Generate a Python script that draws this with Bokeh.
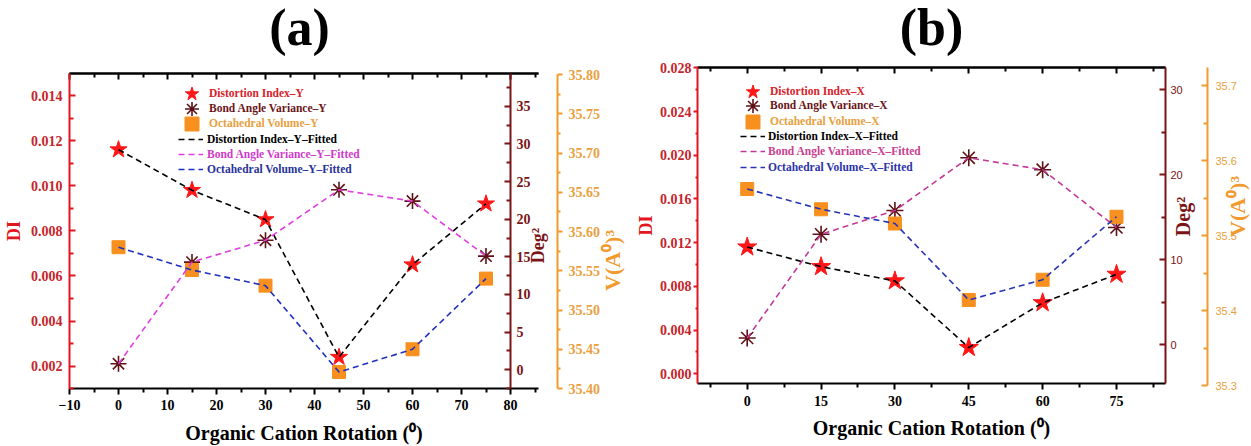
import math
from bokeh.plotting import figure
from bokeh.models import (Range1d, LinearAxis, FixedTicker, PrintfTickFormatter,
                          Legend, LegendItem, Label)
from bokeh.layouts import row
from bokeh.embed import file_html
from bokeh.resources import INLINE

# ---------------- data ----------------
angles = [0, 15, 30, 45, 60, 75]

di_y = [0.0116, 0.0098, 0.0085, 0.0024, 0.0065, 0.0092]
bav_y = [0.8, 14.3, 17.2, 23.9, 22.4, 15.1]
vol_y = [35.580, 35.551, 35.531, 35.421, 35.450, 35.540]

di_x = [0.0116, 0.0098, 0.0085, 0.0024, 0.0065, 0.0091]
bav_x = [0.8, 13.0, 15.8, 22.0, 20.6, 13.8]
vol_x = [35.562, 35.535, 35.516, 35.414, 35.441, 35.525]

# ticks
xa_major = [-10, 0, 10, 20, 30, 40, 50, 60, 70, 80]
xa_minor = [-5, 5, 15, 25, 35, 45, 55, 65, 75, 85]
dia_major = [0.002, 0.004, 0.006, 0.008, 0.010, 0.012, 0.014]
dia_minor = [0.001, 0.003, 0.005, 0.007, 0.009, 0.011, 0.013]
dega_major = [0, 5, 10, 15, 20, 25, 30, 35]
dega_minor = [-2.5, 2.5, 7.5, 12.5, 17.5, 22.5, 27.5, 32.5, 37.5]
vola_major = [35.40, 35.45, 35.50, 35.55, 35.60, 35.65, 35.70, 35.75, 35.80]
vola_minor = [35.425, 35.475, 35.525, 35.575, 35.625, 35.675, 35.725, 35.775]

xb_major = [0, 15, 30, 45, 60, 75]
xb_minor = [-7.5, 7.5, 22.5, 37.5, 52.5, 67.5, 82.5]
dib_major = [0.000, 0.004, 0.008, 0.012, 0.016, 0.020, 0.024, 0.028]
dib_minor = [0.002, 0.006, 0.010, 0.014, 0.018, 0.022, 0.026]
degb_major = [0, 10, 20, 30]
degb_minor = [5, 15, 25]
volb_major = [35.3, 35.4, 35.5, 35.6, 35.7]
volb_minor = [35.35, 35.45, 35.55, 35.65]

SERIF = "Liberation Serif"
SANS = "Liberation Sans"

RED_AX = "#E3161E"
RED_TXT = "#C4262C"
MAROON = "#7A1416"
ORANGE_AX = "#F29A2E"
ORANGE_TXT = "#E9A140"
STAR = "#FF1616"
AST = "#5E1014"
SQ = "#F7901E"

H = 446


def lin(v0, p0, v1, p1):
    """pixel -> data converter from two anchor points (layout helper)."""
    k = (p1 - p0) / (v1 - v0)
    return lambda px: v0 + (px - p0) / k


def style_axis(ax, line_color, text_color, font=SERIF, style="bold", size="14px",
               tin=0, tout=6, min_in=0, min_out=3, lw=2, standoff=5):
    ax.axis_line_color = line_color
    ax.axis_line_width = lw
    ax.major_tick_line_color = line_color
    ax.minor_tick_line_color = line_color
    ax.major_tick_line_width = lw
    ax.minor_tick_line_width = lw
    ax.major_tick_in = tin
    ax.major_tick_out = tout
    ax.minor_tick_in = min_in
    ax.minor_tick_out = min_out
    ax.major_label_text_color = text_color
    ax.major_label_text_font = font
    ax.major_label_text_font_style = style
    ax.major_label_text_font_size = size
    ax.major_label_standoff = standoff


def label_style(ax, text, color, size="18px", standoff=5):
    ax.axis_label = text
    ax.axis_label_text_color = color
    ax.axis_label_text_font = SERIF
    ax.axis_label_text_font_style = "bold"
    ax.axis_label_text_font_size = size
    ax.axis_label_standoff = standoff


def top_axes(p, majors, minors, loc, bounds):
    for ticks, length in ((majors, 6), (minors, 4)):
        ax = LinearAxis(ticker=FixedTicker(ticks=[], minor_ticks=ticks), bounds=bounds,
                        fixed_location=loc)
        style_axis(ax, "black", "black", tin=0, tout=0, min_in=length, min_out=0, standoff=0)
        p.add_layout(ax, "above")


def text_label(p, text, color, x, y, yname, size, angle=0.0):
    kw = {} if yname is None else {"y_range_name": yname}
    p.add_layout(Label(x=x, y=y, text=text, angle=angle,
                       text_align="center", text_baseline="middle", text_color=color,
                       text_font=SERIF, text_font_style="bold", text_font_size=size, **kw))


def add_legend(p, renderer, label, color, x, y, gw, gh, standoff):
    leg = Legend(items=[LegendItem(label=label, renderers=[renderer])],
                 location=(x, y), label_text_color=color,
                 label_text_font=SERIF, label_text_font_style="bold",
                 label_text_font_size="11.5px", glyph_width=gw, glyph_height=gh,
                 label_height=14, label_standoff=standoff, padding=0, margin=0,
                 spacing=0, background_fill_alpha=0, border_line_color=None)
    p.add_layout(leg, "center")


def base_fig(width, xr, yr, extra):
    p = figure(width=width, height=H, x_range=Range1d(*xr), y_range=Range1d(*yr),
               output_backend="svg", toolbar_location=None, x_axis_location=None,
               y_axis_location=None, min_border=0)
    p.title.visible = False
    p.outline_line_color = None
    p.xgrid.visible = False
    p.ygrid.visible = False
    p.extra_y_ranges = {k: Range1d(*v) for k, v in extra.items()}
    return p


# ================= panel (a) =================
WA = 625
fx = lin(-10, 69, 80, 510)
fdi = lin(0.002, 365.7, 0.014, 95)
fdeg = lin(0, 369.3, 35, 105.7)
fvol = lin(35.40, 388, 35.80, 74)
pa = base_fig(WA, (fx(0), fx(WA)), (fdi(H), fdi(0)),
              {"deg": (fdeg(H), fdeg(0)), "vol": (fvol(H), fvol(0))})

xa_b = LinearAxis(ticker=FixedTicker(ticks=xa_major, minor_ticks=xa_minor),
                  fixed_location=fdi(388), bounds=(-10, fx(538)))
style_axis(xa_b, "black", "black", tin=0, tout=6, min_in=0, min_out=4, standoff=5)
label_style(xa_b, "Organic Cation Rotation (\u2070)", "black", size="20px", standoff=9)
pa.add_layout(xa_b, "below")

top_axes(pa, xa_major, xa_minor, fdi(73), (-10, fx(538)))

ya_l = LinearAxis(ticker=FixedTicker(ticks=dia_major, minor_ticks=dia_minor),
                  formatter=PrintfTickFormatter(format="%.3f"),
                  fixed_location=-10, bounds=(fdi(388), fdi(73)))
style_axis(ya_l, RED_AX, RED_TXT, tin=6, tout=0, min_in=4, min_out=0, standoff=7)
label_style(ya_l, "DI", RED_AX, size="18px", standoff=4)
pa.add_layout(ya_l, "left")

ya_d = LinearAxis(y_range_name="deg", fixed_location=80,
                  ticker=FixedTicker(ticks=dega_major, minor_ticks=dega_minor),
                  formatter=PrintfTickFormatter(format="%d"), bounds=(fdeg(388), fdeg(73)))
style_axis(ya_d, MAROON, MAROON, tin=6, tout=0, min_in=4, min_out=0, standoff=6)
pa.add_layout(ya_d, "right")

ya_v = LinearAxis(y_range_name="vol", fixed_location=fx(557),
                  ticker=FixedTicker(ticks=vola_major, minor_ticks=vola_minor),
                  formatter=PrintfTickFormatter(format="%.2f"), bounds=(35.40, 35.80))
style_axis(ya_v, ORANGE_AX, ORANGE_TXT, tin=0, tout=5, min_in=0, min_out=3, standoff=6)
pa.add_layout(ya_v, "right")

text_label(pa, "(a)", "black", fx(299), fdi(27), None, "52px")
text_label(pa, "Deg\u00b2", MAROON, fx(537), fdeg(245), "deg", "18px", math.pi / 2)
text_label(pa, "V(A\u2070)\u00b3", ORANGE_AX, fx(612), fvol(260), "vol", "22px", math.pi / 2)

ra_di = pa.scatter(angles, di_y, marker="star", size=18, fill_color=STAR, line_color=STAR)
ra_bav = pa.scatter(angles, bav_y, marker="asterisk", size=16, line_color=AST, line_width=1.6,
                    y_range_name="deg")
ra_vol = pa.scatter(angles, vol_y, marker="square", size=13, fill_color=SQ, line_color=SQ,
                    y_range_name="vol")
la_di = pa.line(angles, di_y, line_color="black", line_dash="6 4", line_width=1.6)
la_bav = pa.line(angles, bav_y, line_color="#E03FE0", line_dash="6 4", line_width=1.6,
                 y_range_name="deg")
la_vol = pa.line(angles, vol_y, line_color="#1F2FC0", line_dash="6 4", line_width=1.6,
                 y_range_name="vol")

leg_a_y = [93, 108, 123, 139, 154, 169]
add_legend(pa, ra_di, "Distortion Index\u2013Y", "#D8222A", 174, H - leg_a_y[0] - 17.5, 35, 35, -1)
add_legend(pa, ra_bav, "Bond Angle Variance\u2013Y", "#6A1418", 174, H - leg_a_y[1] - 17.5, 35, 35, -1)
add_legend(pa, ra_vol, "Octahedral Volume\u2013Y", "#E7A040", 174, H - leg_a_y[2] - 17.5, 35, 35, -1)
add_legend(pa, la_di, "Distortion Index\u2013Y\u2013Fitted", "black", 178, H - leg_a_y[3] - 7, 25, 14, 4)
add_legend(pa, la_bav, "Bond Angle Variance\u2013Y\u2013Fitted", "#D03ACB", 178, H - leg_a_y[4] - 7, 25, 14, 4)
add_legend(pa, la_vol, "Octahedral Volume\u2013Y\u2013Fitted", "#27339A", 178, H - leg_a_y[5] - 7, 25, 14, 4)

# ================= panel (b) =================  (pixel values local to panel b)
WB = 626
gx = lin(0, 121.7, 75, 491)
gdi = lin(0.0, 373.3, 0.028, 67.3)
gdeg = lin(0, 344.3, 30, 89.3)
gvol = lin(35.3, 385, 35.7, 85)
pb = base_fig(WB, (gx(0), gx(WB)), (gdi(H), gdi(0)),
              {"deg": (gdeg(H), gdeg(0)), "vol": (gvol(H), gvol(0))})

xb_b = LinearAxis(ticker=FixedTicker(ticks=xb_major, minor_ticks=xb_minor),
                  fixed_location=gdi(383.3), bounds=(gx(72), gx(540)))
style_axis(xb_b, "black", "black", tin=0, tout=6, min_in=0, min_out=4, standoff=6)
label_style(xb_b, "Organic Cation Rotation (\u2070)", "black", size="20px", standoff=8)
pb.add_layout(xb_b, "below")

top_axes(pb, xb_major, xb_minor, gdi(67.3), (gx(72), gx(540)))

yb_l = LinearAxis(ticker=FixedTicker(ticks=dib_major, minor_ticks=dib_minor),
                  formatter=PrintfTickFormatter(format="%.3f"),
                  fixed_location=gx(72), bounds=(gdi(383.3), gdi(67.3)))
style_axis(yb_l, RED_AX, RED_TXT, tin=0, tout=4, min_in=0, min_out=2, standoff=2)
label_style(yb_l, "DI", RED_AX, size="18px", standoff=1)
pb.add_layout(yb_l, "left")

yb_d = LinearAxis(y_range_name="deg", fixed_location=gx(540),
                  ticker=FixedTicker(ticks=degb_major, minor_ticks=degb_minor),
                  formatter=PrintfTickFormatter(format="%d"), bounds=(gdeg(383.3), gdeg(67.3)))
style_axis(yb_d, MAROON, MAROON, font=SANS, style="normal", size="11px",
           tin=6, tout=0, min_in=4, min_out=0, standoff=5)
pb.add_layout(yb_d, "right")

yb_v = LinearAxis(y_range_name="vol", fixed_location=gx(582),
                  ticker=FixedTicker(ticks=volb_major, minor_ticks=volb_minor),
                  formatter=PrintfTickFormatter(format="%.1f"), bounds=(gvol(385), gvol(67.3)))
style_axis(yb_v, ORANGE_AX, ORANGE_TXT, font=SANS, style="normal", size="11px",
           tin=6, tout=0, min_in=4, min_out=0, standoff=8)
pb.add_layout(yb_v, "right")

text_label(pb, "(b)", "black", gx(306), gdi(27), None, "52px")
text_label(pb, "Deg\u00b2", MAROON, gx(557), gdeg(216), "deg", "20px", math.pi / 2)
text_label(pb, "V(A\u2070)\u00b3", ORANGE_AX, gx(612), gvol(206), "vol", "22px", math.pi / 2)

rb_di = pb.scatter(angles, di_x, marker="star", size=20, fill_color=STAR, line_color=STAR)
rb_bav = pb.scatter(angles, bav_x, marker="asterisk", size=17, line_color=AST, line_width=1.6,
                    y_range_name="deg")
rb_vol = pb.scatter(angles, vol_x, marker="square", size=13, fill_color=SQ, line_color=SQ,
                    y_range_name="vol")
lb_di = pb.line(angles, di_x, line_color="black", line_dash="6 4", line_width=1.6)
lb_bav = pb.line(angles, bav_x, line_color="#C2399B", line_dash="6 4", line_width=1.6,
                 y_range_name="deg")
lb_vol = pb.line(angles, vol_x, line_color="#2633B5", line_dash="6 4", line_width=1.6,
                 y_range_name="vol")

leg_b_y = [91, 105, 121, 136, 151, 167]
add_legend(pb, rb_di, "Distortion Index\u2013X", "#D8222A", 110, H - leg_b_y[0] - 17.5, 35, 35, -1)
add_legend(pb, rb_bav, "Bond Angle Variance\u2013X", "#6A1418", 110, H - leg_b_y[1] - 17.5, 35, 35, -1)
add_legend(pb, rb_vol, "Octahedral Volume\u2013X", "#E7A040", 110, H - leg_b_y[2] - 17.5, 35, 35, -1)
add_legend(pb, lb_di, "Distortion Index\u2013X\u2013Fitted", "black", 115, H - leg_b_y[3] - 7, 25, 14, 3)
add_legend(pb, lb_bav, "Bond Angle Variance\u2013X\u2013Fitted", "#C8408F", 115, H - leg_b_y[4] - 7, 25, 14, 3)
add_legend(pb, lb_vol, "Octahedral Volume\u2013X\u2013Fitted", "#2A33A8", 115, H - leg_b_y[5] - 7, 25, 14, 3)

layout = row(pa, pb)
open("out.html", "w").write(file_html(layout, INLINE))
